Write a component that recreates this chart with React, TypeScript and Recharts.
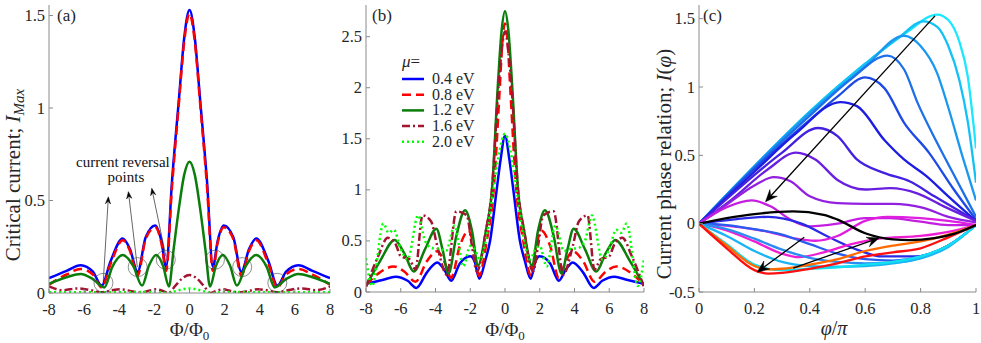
import React from "react";
import { LineChart, Line, XAxis, YAxis, ReferenceDot, ReferenceLine } from "recharts";

const FONT = "Liberation Serif, Times New Roman, serif";
const AXIS = "#8a8a8a";
const INK = "#262626";

// ---------- panel (a): critical current vs flux ----------
const aX = [-8, -7, -6.2, -5.5, -5.0, -4.5, -3.8, -3.4, -2.95, -2.5, -1.95, -1.6, -1.33, -1.0, -0.6, -0.3, 0, 0.3, 0.6, 1.0, 1.33, 1.6, 1.95, 2.5, 2.95, 3.4, 3.8, 4.5, 5.0, 5.5, 6.2, 7, 8];
const aBlue = [0.08, 0.12, 0.15, 0.115, 0.04, 0.17, 0.295, 0.24, 0.115, 0.3, 0.365, 0.28, 0.14, 0.6, 1.05, 1.38, 1.53, 1.38, 1.05, 0.6, 0.14, 0.28, 0.365, 0.3, 0.115, 0.24, 0.295, 0.17, 0.04, 0.115, 0.15, 0.12, 0.08];
const aRed = [0.045, 0.1, 0.13, 0.1, 0.03, 0.155, 0.285, 0.23, 0.095, 0.29, 0.355, 0.27, 0.12, 0.57, 1.03, 1.36, 1.51, 1.36, 1.03, 0.57, 0.12, 0.27, 0.355, 0.29, 0.095, 0.23, 0.285, 0.155, 0.03, 0.1, 0.13, 0.1, 0.045];
const aGreenX = [-8, -7, -6.2, -5.5, -4.85, -4.4, -3.8, -3.2, -2.7, -2.3, -1.9, -1.5, -1.17, -0.9, -0.6, -0.3, 0, 0.3, 0.6, 0.9, 1.17, 1.5, 1.9, 2.3, 2.7, 3.2, 3.8, 4.4, 4.85, 5.5, 6.2, 7, 8];
const aGreen = [0.05, 0.085, 0.103, 0.075, 0.03, 0.14, 0.205, 0.145, 0.04, 0.15, 0.205, 0.145, 0.035, 0.24, 0.46, 0.64, 0.71, 0.64, 0.46, 0.24, 0.035, 0.145, 0.205, 0.15, 0.04, 0.145, 0.205, 0.14, 0.03, 0.075, 0.103, 0.085, 0.05];
const aWineX = [-8, -7.2, -6.4, -5.6, -5.0, -4.4, -3.9, -3.3, -2.8, -2.3, -1.9, -1.5, -1.2, -0.8, -0.4, 0, 0.4, 0.8, 1.2, 1.5, 1.9, 2.3, 2.8, 3.3, 3.9, 4.4, 5.0, 5.6, 6.4, 7.2, 8];
const aWine = [0.035, 0.015, 0.025, 0.015, 0.004, 0.015, 0.02, 0.01, 0.003, 0.012, 0.02, 0.01, 0.0, 0.04, 0.08, 0.097, 0.08, 0.04, 0.0, 0.01, 0.02, 0.012, 0.003, 0.01, 0.02, 0.015, 0.004, 0.015, 0.025, 0.015, 0.035];
const aLimeX = [-8, -6, -4, -2, -1.3, -0.8, -0.4, 0, 0.4, 0.8, 1.3, 2, 4, 6, 8];
const aLime = [0.004, 0.004, 0.004, 0.006, 0.0, 0.01, 0.02, 0.025, 0.02, 0.01, 0.0, 0.006, 0.004, 0.004, 0.004];

// ---------- panel (b): several chemical potentials ----------
const bBlueX = [-8, -7, -6.3, -5.6, -5.1, -4.5, -3.9, -3.5, -3.1, -2.6, -2.0, -1.75, -1.48, -1.15, -0.86, -0.48, -0.25, 0, 0.25, 0.48, 0.86, 1.15, 1.48, 1.75, 2.0, 2.6, 3.1, 3.5, 3.9, 4.5, 5.1, 5.6, 6.3, 7, 8];
const bBlue = [0.08, 0.12, 0.15, 0.11, 0.04, 0.19, 0.29, 0.22, 0.11, 0.28, 0.35, 0.3, 0.13, 0.3, 0.5, 1.0, 1.3, 1.53, 1.3, 1.0, 0.5, 0.3, 0.13, 0.3, 0.35, 0.28, 0.11, 0.22, 0.29, 0.19, 0.04, 0.11, 0.15, 0.12, 0.08];
const bRedX = [-8, -7.3, -6.4, -5.8, -5.15, -4.5, -3.9, -3.5, -3.1, -2.6, -2.1, -1.8, -1.5, -1.05, -0.65, -0.3, -0.15, 0, 0.15, 0.3, 0.65, 1.05, 1.5, 1.8, 2.1, 2.6, 3.1, 3.5, 3.9, 4.5, 5.15, 5.8, 6.4, 7.3, 8];
const bRed = [0.07, 0.18, 0.25, 0.2, 0.1, 0.3, 0.4, 0.3, 0.14, 0.45, 0.6, 0.45, 0.16, 0.5, 1.0, 2.0, 2.45, 2.63, 2.45, 2.0, 1.0, 0.5, 0.16, 0.45, 0.6, 0.45, 0.14, 0.3, 0.4, 0.3, 0.1, 0.2, 0.25, 0.18, 0.07];
const bGreenX = [-8, -7.2, -6.35, -5.8, -5.25, -4.6, -3.95, -3.6, -3.25, -2.8, -2.3, -1.9, -1.55, -1.1, -0.75, -0.42, -0.2, 0, 0.2, 0.42, 0.75, 1.1, 1.55, 1.9, 2.3, 2.8, 3.25, 3.6, 3.95, 4.6, 5.25, 5.8, 6.35, 7.2, 8];
const bGreen = [0.06, 0.3, 0.51, 0.38, 0.2, 0.42, 0.62, 0.42, 0.18, 0.55, 0.8, 0.6, 0.26, 0.6, 1.0, 2.0, 2.55, 2.75, 2.55, 2.0, 1.0, 0.6, 0.26, 0.6, 0.8, 0.55, 0.18, 0.42, 0.62, 0.42, 0.2, 0.38, 0.51, 0.3, 0.06];
const bWineX = [-8, -7.3, -6.75, -6.3, -6.0, -5.5, -5.15, -4.75, -4.25, -3.9, -3.35, -2.8, -2.2, -1.9, -1.62, -1.1, -0.75, -0.4, -0.2, 0, 0.2, 0.4, 0.75, 1.1, 1.62, 1.9, 2.2, 2.8, 3.35, 3.9, 4.25, 4.75, 5.15, 5.5, 6.0, 6.3, 6.75, 7.3, 8];
const bWine = [0.05, 0.35, 0.53, 0.47, 0.35, 0.32, 0.22, 0.75, 0.69, 0.45, 0.17, 0.79, 0.75, 0.45, 0.2, 0.6, 1.0, 1.95, 2.35, 2.55, 2.35, 1.95, 1.0, 0.6, 0.2, 0.45, 0.75, 0.79, 0.17, 0.45, 0.69, 0.75, 0.22, 0.32, 0.35, 0.47, 0.53, 0.35, 0.05];
const bLimeX = [-8, -7.65, -7.0, -6.7, -6.4, -6.0, -5.6, -5.0, -4.6, -4.2, -3.7, -3.4, -2.9, -2.4, -2.0, -1.75, -1.45, -1.05, -0.67, -0.35, 0, 0.35, 0.67, 1.05, 1.45, 1.75, 2.0, 2.4, 2.9, 3.4, 3.7, 4.2, 4.6, 5.0, 5.6, 6.0, 6.4, 6.7, 7.0, 7.65, 8];
const bLime = [0.33, 0.06, 0.67, 0.58, 0.61, 0.42, 0.32, 0.75, 0.5, 0.43, 0.42, 0.4, 0.65, 0.25, 0.45, 0.42, 0.32, 0.55, 1.0, 1.35, 1.55, 1.35, 1.0, 0.55, 0.32, 0.42, 0.45, 0.25, 0.65, 0.4, 0.42, 0.43, 0.5, 0.75, 0.32, 0.42, 0.61, 0.58, 0.67, 0.06, 0.33];

const muLabels = ["0.4 eV", "0.8 eV", "1.2 eV", "1.6 eV", "2.0 eV"];

// ---------- panel (c): current phase relation ----------
const cpr: { color: string; x: number[]; y: number[] }[] = [
  { color: "#19e8ff", x: [0, 0.2, 0.4, 0.6, 0.75, 0.86, 0.9, 0.94, 0.97, 1], y: [0, 0.42, 0.82, 1.17, 1.4, 1.53, 1.49, 1.33, 1.08, 0.55] },
  { color: "#12c2f6", x: [0, 0.2, 0.4, 0.6, 0.72, 0.81, 0.86, 0.9, 0.94, 0.97, 1], y: [0, 0.42, 0.82, 1.17, 1.36, 1.48, 1.44, 1.3, 1.05, 0.75, 0.3] },
  { color: "#1a98f0", x: [0, 0.2, 0.4, 0.6, 0.74, 0.8, 0.86, 0.9, 0.95, 1], y: [0, 0.42, 0.81, 1.15, 1.375, 1.3, 1.1, 0.85, 0.5, 0.17] },
  { color: "#1e70ea", x: [0, 0.2, 0.4, 0.55, 0.68, 0.74, 0.79, 0.86, 0.93, 1], y: [0, 0.41, 0.79, 1.06, 1.23, 1.13, 0.88, 0.59, 0.32, 0.05] },
  { color: "#1e4ae6", x: [0, 0.2, 0.4, 0.5, 0.6, 0.67, 0.74, 0.83, 0.92, 1], y: [0, 0.4, 0.76, 0.93, 1.07, 0.99, 0.74, 0.52, 0.25, 0.03] },
  { color: "#1c1ce2", x: [0, 0.2, 0.35, 0.51, 0.57, 0.67, 0.74, 0.82, 0.9, 1], y: [0, 0.38, 0.66, 0.89, 0.86, 0.61, 0.47, 0.35, 0.2, 0.02] },
  { color: "#4420e0", x: [0, 0.15, 0.3, 0.43, 0.5, 0.57, 0.67, 0.76, 0.85, 1], y: [0, 0.27, 0.52, 0.7, 0.64, 0.47, 0.37, 0.31, 0.2, 0.02] },
  { color: "#6a1ee0", x: [0, 0.12, 0.25, 0.35, 0.42, 0.5, 0.6, 0.69, 0.79, 0.88, 1], y: [0, 0.18, 0.4, 0.52, 0.47, 0.32, 0.25, 0.26, 0.22, 0.13, 0.02] },
  { color: "#9320e0", x: [0, 0.1, 0.2, 0.27, 0.33, 0.4, 0.5, 0.6, 0.7, 0.81, 0.9, 1], y: [0, 0.14, 0.28, 0.34, 0.31, 0.2, 0.15, 0.145, 0.145, 0.115, 0.05, 0.01] },
  { color: "#c41ee0", x: [0, 0.1, 0.19, 0.26, 0.33, 0.4, 0.5, 0.6, 0.69, 0.8, 0.9, 1], y: [0, 0.12, 0.17, 0.125, 0.03, -0.02, 0.0, 0.04, 0.04, 0.015, -0.01, -0.01] },
  { color: "#2a2ae6", x: [0, 0.12, 0.25, 0.37, 0.47, 0.57, 0.66, 0.78, 0.9, 1], y: [0, 0.03, 0.05, 0.0, -0.1, -0.19, -0.24, -0.24, -0.16, -0.01] },
  { color: "#e01ee0", x: [0, 0.12, 0.25, 0.35, 0.42, 0.5, 0.6, 0.68, 0.8, 0.9, 1], y: [0, -0.02, -0.06, -0.11, -0.125, -0.09, 0.02, 0.05, 0.04, 0.02, -0.01] },
  { color: "#2a5cf0", x: [0, 0.1, 0.2, 0.3, 0.4, 0.5, 0.6, 0.7, 0.8, 0.9, 1], y: [0, -0.01, -0.04, -0.08, -0.15, -0.22, -0.26, -0.27, -0.24, -0.16, -0.01] },
  { color: "#f01ed2", x: [0, 0.1, 0.2, 0.3, 0.36, 0.45, 0.55, 0.65, 0.8, 0.9, 1], y: [0, -0.05, -0.13, -0.22, -0.245, -0.21, -0.15, -0.11, -0.09, -0.06, -0.01] },
  { color: "#2a8cf0", x: [0, 0.1, 0.2, 0.3, 0.4, 0.5, 0.6, 0.7, 0.8, 0.9, 1], y: [0, -0.04, -0.11, -0.19, -0.25, -0.28, -0.29, -0.285, -0.25, -0.16, -0.01] },
  { color: "#1ab4f5", x: [0, 0.1, 0.2, 0.3, 0.4, 0.5, 0.6, 0.7, 0.8, 0.9, 1], y: [0, -0.09, -0.2, -0.28, -0.31, -0.315, -0.31, -0.29, -0.255, -0.17, -0.01] },
  { color: "#10e0f0", x: [0, 0.1, 0.2, 0.25, 0.3, 0.4, 0.5, 0.6, 0.7, 0.8, 0.9, 1], y: [0, -0.15, -0.3, -0.33, -0.34, -0.33, -0.32, -0.3, -0.28, -0.24, -0.16, -0.01] },
  { color: "#ff6a00", x: [0, 0.1, 0.2, 0.25, 0.3, 0.4, 0.5, 0.6, 0.7, 0.8, 0.9, 1], y: [0, -0.16, -0.31, -0.335, -0.33, -0.3, -0.26, -0.2, -0.16, -0.13, -0.08, -0.01] },
  { color: "#ff1010", x: [0, 0.1, 0.2, 0.25, 0.3, 0.4, 0.5, 0.6, 0.7, 0.8, 0.9, 1], y: [0, -0.18, -0.34, -0.365, -0.36, -0.33, -0.29, -0.24, -0.21, -0.18, -0.1, -0.01] },
];
const cBlackX = [0, 0.1, 0.2, 0.34, 0.45, 0.5, 0.6, 0.7, 0.76, 0.85, 0.92, 1];
const cBlack = [0, 0.04, 0.07, 0.09, 0.065, 0.03, -0.07, -0.115, -0.12, -0.105, -0.075, -0.01];

// annotations (data coordinates)
const reversalCircles = [[-4.9, 0.055], [-2.95, 0.14], [-1.35, 0.18], [1.45, 0.18], [3.0, 0.14], [5.0, 0.055]];
const reversalArrows = [[-4.91, 0.06, -4.62, 0.52], [-2.97, 0.14, -3.48, 0.548], [-1.34, 0.196, -2.15, 0.566]];
const reversalText = [["current reversal", -3.79, 0.708], ["points", -3.62, 0.627]];
const cprArrows = [[0.852, 1.52, 0.24, 0.16], [0.38, -0.1, 0.21, -0.355], [0.34, -0.325, 0.65, -0.105]];

const pts = (xs: number[], ys: number[]) => xs.map((x, i) => ({ x, y: ys[i] }));

const STYLES = [
  { color: "#0000ff", dash: undefined },
  { color: "#ff0000", dash: "9 5" },
  { color: "#0b7d0b", dash: undefined },
  { color: "#a2142f", dash: "8 3 2 3" },
  { color: "#00ff00", dash: "2 3" },
];

const txt = { fontFamily: FONT, fill: INK };

const BottomTick = ({ x, y, payload }: any) => (
  <g>
    <line x1={x} y1={y} x2={x} y2={y - 4} stroke={AXIS} />
    <text x={x} y={y + 22} textAnchor="middle" fontSize={16.5} style={txt}>{payload.value}</text>
  </g>
);
const TopTick = ({ x, y }: any) => <line x1={x} y1={y} x2={x} y2={y + 4} stroke={AXIS} />;
const LeftTick = ({ x, y, payload }: any) => (
  <g>
    <line x1={x} y1={y} x2={x + 4} y2={y} stroke={AXIS} />
    <text x={x - 4} y={y + 5.5} textAnchor="end" fontSize={16.5} style={txt}>{payload.value}</text>
  </g>
);
const RightTick = ({ x, y }: any) => <line x1={x} y1={y} x2={x - 4} y2={y} stroke={AXIS} />;

const noteLabel = (text: string) => (p: any) => {
  const vb = p.viewBox || {};
  const cx = (vb.x ?? 0) + (vb.width ?? 0) / 2;
  const cy = (vb.y ?? 0) + (vb.height ?? 0) / 2;
  return (
    <text x={cx} y={cy + 5} textAnchor="middle" fontSize={15} style={{ fontFamily: FONT, fill: "#111" }}>{text}</text>
  );
};

const arrowShape = (filled: boolean) => (p: any) => {
  const { x1, y1, x2, y2 } = p;
  if ([x1, y1, x2, y2].some((v) => typeof v !== "number")) return <g />;
  const a = Math.atan2(y2 - y1, x2 - x1);
  const L = filled ? 7 : 12;
  const W = filled ? 2.6 : 5;
  const c = Math.cos(a), s = Math.sin(a);
  const bx = x2 - L * c, by = y2 - L * s;
  const nx = x2 - L * 0.65 * c, ny = y2 - L * 0.65 * s;
  const poly = `${x2},${y2} ${bx - s * W},${by + c * W} ${nx},${ny} ${bx + s * W},${by - c * W}`;
  return (
    <g>
      <line x1={x1} y1={y1} x2={nx} y2={ny} stroke="#000" strokeWidth={filled ? 0.6 : 1.3} />
      <polygon points={poly} fill="#000" stroke="#000" strokeWidth={0.5} />
    </g>
  );
};

function Frame({ xTicks, yTicks, xDomain, yDomain, yWidth }: any) {
  return [
    <XAxis key="xb" xAxisId={0} dataKey="x" type="number" domain={xDomain} ticks={xTicks} allowDataOverflow
      stroke={AXIS} tickLine={false} tickSize={0} tickMargin={0} height={30} tick={BottomTick} interval={0} />,
    <XAxis key="xt" xAxisId="top" orientation="top" dataKey="x" type="number" domain={xDomain} ticks={xTicks} allowDataOverflow
      stroke={AXIS} tickLine={false} tickSize={0} tickMargin={0} height={0} tick={TopTick} interval={0} />,
    <YAxis key="yl" yAxisId={0} type="number" domain={yDomain} ticks={yTicks} allowDataOverflow
      stroke={AXIS} tickLine={false} tickSize={0} tickMargin={0} width={yWidth} tick={LeftTick} interval={0} />,
    <YAxis key="yr" yAxisId="right" orientation="right" type="number" domain={yDomain} ticks={yTicks} allowDataOverflow
      stroke={AXIS} tickLine={false} tickSize={0} tickMargin={0} width={0} tick={RightTick} interval={0} />,
  ];
}

export default function App() {
  const fluxTicks = [-8, -6, -4, -2, 0, 2, 4, 6, 8];
  const aSeries = [pts(aX, aBlue), pts(aX, aRed), pts(aGreenX, aGreen), pts(aWineX, aWine), pts(aLimeX, aLime)];
  const bSeries = [pts(bBlueX, bBlue), pts(bRedX, bRed), pts(bGreenX, bGreen), pts(bWineX, bWine), pts(bLimeX, bLime)];

  return (
    <div style={{ position: "absolute", left: 0, top: 0, width: 981, height: 343, background: "#fff", fontFamily: FONT }}>
      <div style={{ position: "absolute", left: 0, top: 0 }}>
        <LineChart width={335} height={343} margin={{ top: 5, right: 5, bottom: 20, left: 9 }}>
          {Frame({ xTicks: fluxTicks, yTicks: [0, 0.5, 1, 1.5], xDomain: [-8, 8], yDomain: [0, 1.557], yWidth: 40 })}
          {aSeries.map((d, i) => (
            <Line key={i} data={d} dataKey="y" type="monotone" stroke={STYLES[i].color} strokeDasharray={STYLES[i].dash}
              strokeWidth={2.5} dot={false} isAnimationActive={false} />
          ))}
          {reversalCircles.map(([x, y], i) => (
            <ReferenceDot key={"c" + i} x={x} y={y} r={9.5} fill="none" stroke="#444" strokeWidth={0.6} />
          ))}
          {reversalArrows.map(([x1, y1, x2, y2], i) => (
            <ReferenceLine key={"a" + i} segment={[{ x: x1, y: y1 }, { x: x2, y: y2 }]} shape={arrowShape(true)} />
          ))}
          {reversalText.map(([t, x, y]) => (
            <ReferenceDot key={t as string} x={x as number} y={y as number} r={0} fill="none" stroke="none"
              label={{ position: "center", content: noteLabel(t as string) }} />
          ))}
        </LineChart>
      </div>

      <div style={{ position: "absolute", left: 335, top: 0 }}>
        <LineChart width={315} height={343} margin={{ top: 5, right: 6, bottom: 21, left: 1 }}>
          {Frame({ xTicks: fluxTicks, yTicks: [0, 0.5, 1, 1.5, 2, 2.5], xDomain: [-8, 8], yDomain: [0, 2.81], yWidth: 30 })}
          {bSeries.map((d, i) => (
            <Line key={i} data={d} dataKey="y" type="monotone" stroke={STYLES[i].color} strokeDasharray={STYLES[i].dash}
              strokeWidth={2.5} dot={false} isAnimationActive={false} />
          ))}
        </LineChart>
      </div>

      <div style={{ position: "absolute", left: 650, top: 0 }}>
        <LineChart width={331} height={343} margin={{ top: 5, right: 5, bottom: 21, left: 9 }}>
          {Frame({ xTicks: [0, 0.2, 0.4, 0.6, 0.8, 1], yTicks: [-0.5, 0, 0.5, 1, 1.5], xDomain: [0, 1], yDomain: [-0.5, 1.6], yWidth: 40 })}
          {cpr.map((c, i) => (
            <Line key={i} data={pts(c.x, c.y)} dataKey="y" type="monotone" stroke={c.color}
              strokeWidth={2.3} dot={false} isAnimationActive={false} />
          ))}
          <Line data={pts(cBlackX, cBlack)} dataKey="y" type="monotone" stroke="#000" strokeWidth={2.3} dot={false} isAnimationActive={false} />
          {cprArrows.map(([x1, y1, x2, y2], i) => (
            <ReferenceLine key={"a" + i} segment={[{ x: x1, y: y1 }, { x: x2, y: y2 }]} shape={arrowShape(false)} />
          ))}
        </LineChart>
      </div>

      <svg width={981} height={343} style={{ position: "absolute", left: 0, top: 0, pointerEvents: "none", fontFamily: FONT }} fill={INK}>
        <text x={57} y={21} fontSize={17} style={txt}>(a)</text>
        <text x={372} y={21} fontSize={17} style={txt}>(b)</text>
        <text x={703} y={21} fontSize={17} style={txt}>(c)</text>

        <text transform="translate(20,175) rotate(-90)" textAnchor="middle" fontSize={21} style={txt}>
          Critical current; <tspan fontStyle="italic">I</tspan>
          <tspan fontStyle="italic" fontSize={15} dy={4}>Max</tspan>
        </text>
        <text transform="translate(671,164) rotate(-90)" textAnchor="middle" fontSize={21} style={txt}>
          Current phase relation; <tspan fontStyle="italic">I</tspan>(<tspan fontStyle="italic">φ</tspan>)
        </text>

        <text x={189.5} y={336} textAnchor="middle" fontSize={19} style={txt}>
          Φ/Φ<tspan fontSize={13} dy={4}>0</tspan>
        </text>
        <text x={505} y={336} textAnchor="middle" fontSize={19} style={txt}>
          Φ/Φ<tspan fontSize={13} dy={4}>0</tspan>
        </text>
        <text x={834} y={335} textAnchor="middle" fontSize={20} style={txt}>
          <tspan fontStyle="italic">φ</tspan>/<tspan fontStyle="italic">π</tspan>
        </text>

        <text x={402} y={67} fontSize={17} style={txt}><tspan fontStyle="italic">μ</tspan>=</text>
        {muLabels.map((m, i) => {
          const y = 79 + i * 15.7;
          return (
            <g key={m}>
              <line x1={402} y1={y} x2={424} y2={y} stroke={STYLES[i].color} strokeWidth={2.5} strokeDasharray={STYLES[i].dash} />
              <text x={432} y={y + 5} fontSize={16} style={txt}>{m}</text>
            </g>
          );
        })}
      </svg>
    </div>
  );
}
